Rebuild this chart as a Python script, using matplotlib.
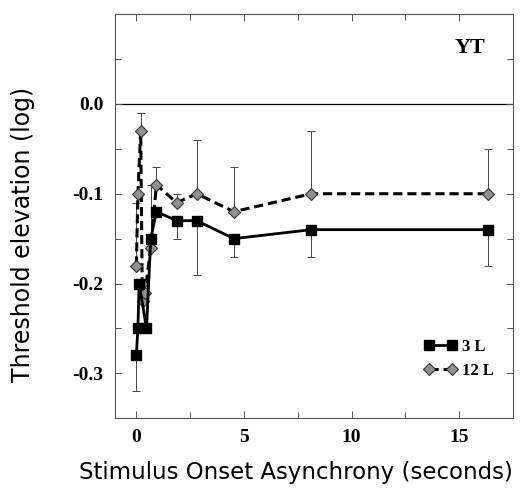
import numpy as np
import matplotlib.pyplot as plt
from matplotlib.ticker import MultipleLocator

# SOA (seconds) and threshold elevation (log)
soa_3 = [0, 0.07, 0.13, 0.47, 0.67, 0.93, 1.87, 2.8, 4.53, 8.13, 16.33]
thr_3 = [-0.28, -0.25, -0.20, -0.25, -0.15, -0.12, -0.13, -0.13, -0.15, -0.14, -0.14]
err_3_lo = [0.04, 0, 0, 0, 0, 0, 0.02, 0.06, 0.02, 0.03, 0.04]

soa_12 = [0, 0.07, 0.2, 0.27, 0.33, 0.4, 0.67, 0.93, 1.87, 2.8, 4.53, 8.13, 16.33]
thr_12 = [-0.18, -0.10, -0.03, -0.20, -0.22, -0.21, -0.16, -0.09, -0.11, -0.10, -0.12, -0.10, -0.10]
err_12_hi = [0.07, 0, 0.02, 0, 0, 0, 0.07, 0.02, 0.01, 0.06, 0.05, 0.07, 0.05]

serif = 'Liberation Serif'

fig = plt.figure(figsize=(5.22, 4.88), dpi=100)
ax = fig.add_axes([0.220, 0.143, 0.763, 0.828])

ax.axhline(0, color='k', lw=0.9, zorder=1)

ax.errorbar(soa_3, thr_3, yerr=[err_3_lo, np.zeros(len(err_3_lo))], fmt='none',
            ecolor='#444444', elinewidth=0.7, capsize=3, capthick=0.7, zorder=2)
ax.errorbar(soa_12, thr_12, yerr=[np.zeros(len(err_12_hi)), err_12_hi], fmt='none',
            ecolor='#444444', elinewidth=0.7, capsize=3, capthick=0.7, zorder=2)

ax.plot(soa_3, thr_3, '-', color='k', lw=2, marker='s', ms=7,
        mfc='k', mec='k', label='3 L', zorder=4)
ax.plot(soa_12, thr_12, '--', color='k', lw=2.2, dashes=(3, 1.6), marker='D', ms=6,
        mfc='#909090', mec='#333333', mew=0.8, label='12 L', zorder=3)

ax.set_xlim(-1, 17.5)
ax.set_ylim(-0.35, 0.1)
ax.set_xticks([0, 5, 10, 15])
ax.xaxis.set_minor_locator(MultipleLocator(2.5))
ax.set_yticks([-0.3, -0.2, -0.1, 0.0])
ax.yaxis.set_minor_locator(MultipleLocator(0.05))
ax.set_yticklabels(['-0.3', '-0.2', '-0.1', '0.0'])
ax.tick_params(which='both', direction='in', top=True, right=True, length=4,
               width=0.7, color='#555555')
ax.tick_params(which='major', length=5, pad=8)
for lab in ax.get_xticklabels() + ax.get_yticklabels():
    lab.set_fontfamily(serif)
    lab.set_fontweight('bold')
    lab.set_fontsize(14)

for sp in ax.spines.values():
    sp.set_color('#555555')
    sp.set_linewidth(0.8)

ax.set_xlabel('Stimulus Onset Asynchrony (seconds)', fontsize=16.5)
ax.xaxis.set_label_coords(0.455, -0.105)
ax.set_ylabel('Threshold elevation (log)', fontsize=17)
ax.yaxis.set_label_coords(-0.2, 0.455)

ax.text(0.93, 0.915, 'YT', transform=ax.transAxes, ha='right', va='center',
        fontfamily=serif, fontweight='bold', fontsize=16)

ax.legend(loc='lower right', bbox_to_anchor=(0.99, 0.06), frameon=False,
          prop={'family': serif, 'weight': 'bold', 'size': 12},
          numpoints=2, handlelength=2.0, handletextpad=0.3, labelspacing=0.5)

fig.savefig('out.png', dpi=100)
